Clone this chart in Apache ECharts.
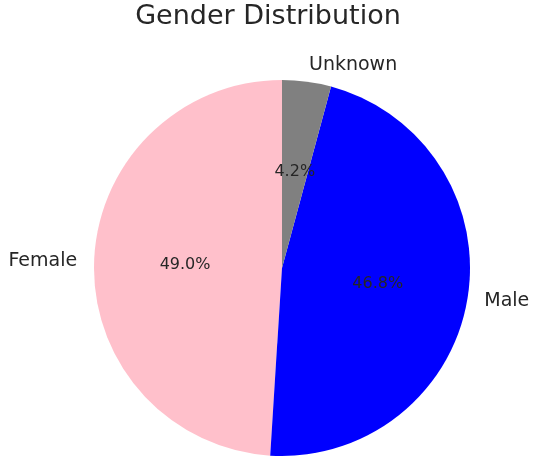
<!DOCTYPE html>
<html><head><meta charset="utf-8">
<script src="https://cdn.jsdelivr.net/npm/echarts@6/dist/echarts.min.js"></script>
<style>html,body{margin:0;padding:0;background:#fff}#c{width:536px;height:460px}</style>
</head><body><div id="c"></div>
<script>
const categories = ["Female", "Male", "Unknown"];
const values = [49.0, 46.8, 4.2];
const colors = ["#ffc0cb", "#0000ff", "#808080"];
const data = categories.map((n, i) => ({name: n, value: values[i], itemStyle: {color: colors[i]}}));
const dataInner = categories.map((n, i) => ({name: n, value: values[i]}));
const font = "DejaVu Sans";
const chart = echarts.init(document.getElementById('c'));
chart.setOption({
  animation: false,
  title: {text: "Gender Distribution", left: "center", top: -2,
    textStyle: {fontFamily: font, fontSize: 27, fontWeight: "normal", color: "#262626"}},
  series: [
    {type: "pie", center: [282, 268], radius: 188, startAngle: 90, clockwise: false,
     data: data, silent: true,
     label: {show: true, position: "outside", overflow: "none", distanceToLabelLine: 0, fontFamily: font, fontSize: 19, color: "#262626"},
     labelLine: {show: false, length: 17, length2: 0}},
    {type: "pie", center: [282, 268], radius: 188, startAngle: 90, clockwise: false,
     data: dataInner, silent: true, itemStyle: {color: "rgba(0,0,0,0)"},
     label: {show: true, position: "inside", formatter: p => p.value.toFixed(1) + "%",
       fontFamily: font, fontSize: 16, color: "#262626"}}
  ]
});
</script></body></html>
